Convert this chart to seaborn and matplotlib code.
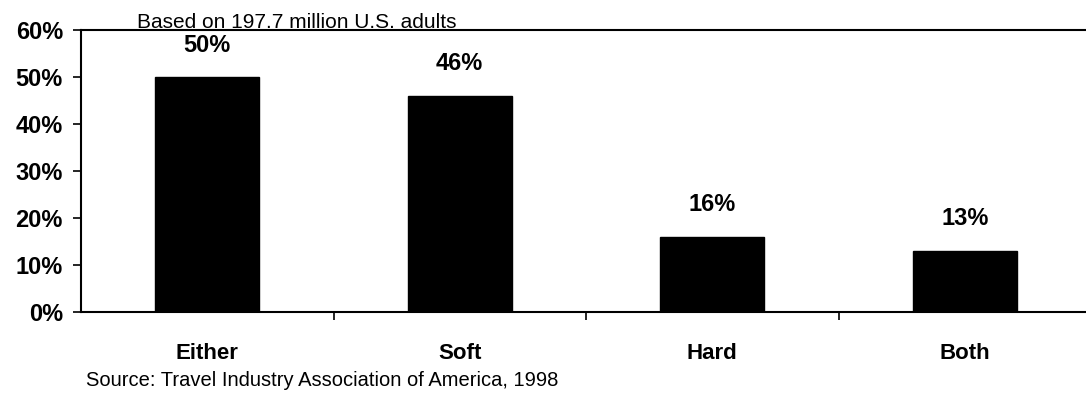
import matplotlib
matplotlib.use("Agg")
import matplotlib.pyplot as plt
import seaborn as sns
import pandas as pd
from matplotlib.ticker import FixedLocator

# Share of U.S. adults taking soft / hard adventure trips
categories = ["Either", "Soft", "Hard", "Both"]
shares = [50, 46, 16, 13]
value_labels = ["50%", "46%", "16%", "13%"]
y_ticks = [0, 10, 20, 30, 40, 50, 60]
y_tick_labels = ["0%", "10%", "20%", "30%", "40%", "50%", "60%"]
subtitle = "Based on 197.7 million U.S. adults"
source_note = "Source: Travel Industry Association of America, 1998"

sns.set_theme(style="white")
plt.rcParams["font.family"] = ["Liberation Sans", "DejaVu Sans"]
plt.rcParams["text.color"] = "black"
plt.rcParams["xtick.color"] = "black"
plt.rcParams["ytick.color"] = "black"

df = pd.DataFrame({"category": categories, "share": shares})

fig = plt.figure(figsize=(10.86, 3.94), dpi=100)
ax = fig.add_axes([81 / 1086, (394 - 312) / 394, 1010 / 1086, 282 / 394])

sns.barplot(data=df, x="category", y="share", color="black", saturation=1,
            width=0.41, ax=ax, edgecolor="black")

ax.set_xlim(-0.5, 3.5)
ax.set_ylim(0, 60)
ax.set_xlabel("")
ax.set_ylabel("")

# y axis: percent ticks pointing outward
ax.set_yticks(y_ticks)
ax.set_yticklabels(y_tick_labels, fontsize=17, fontweight="bold")
ax.tick_params(axis="y", direction="out", length=6, width=1.2, color="black",
               pad=7, left=True)

# x axis: labels centred on bars, tick marks on category boundaries
ax.set_xticks(range(len(categories)))
ax.set_xticklabels(categories, fontsize=16, fontweight="bold")
ax.tick_params(axis="x", which="major", length=0, pad=22)
ax.xaxis.set_minor_locator(FixedLocator([0.5, 1.5, 2.5]))
ax.tick_params(axis="x", which="minor", direction="out", length=6, width=1.2,
               color="black", bottom=True)

for side in ["left", "bottom", "top"]:
    ax.spines[side].set_visible(True)
    ax.spines[side].set_color("black")
    ax.spines[side].set_linewidth(1.5)
ax.spines["right"].set_visible(False)

# value labels above each bar
for i, (v, lab) in enumerate(zip(shares, value_labels)):
    ax.annotate(lab, xy=(i, v), xytext=(0, 23), textcoords="offset points",
                ha="center", va="center", fontsize=17, fontweight="bold")

fig.text(137 / 1086, 1 - 22 / 394, subtitle, ha="left", va="center",
         fontsize=15)
fig.text(86 / 1086, 1 - 380 / 394, source_note, ha="left", va="center",
         fontsize=14.5)

fig.savefig("out.png", dpi=100)
